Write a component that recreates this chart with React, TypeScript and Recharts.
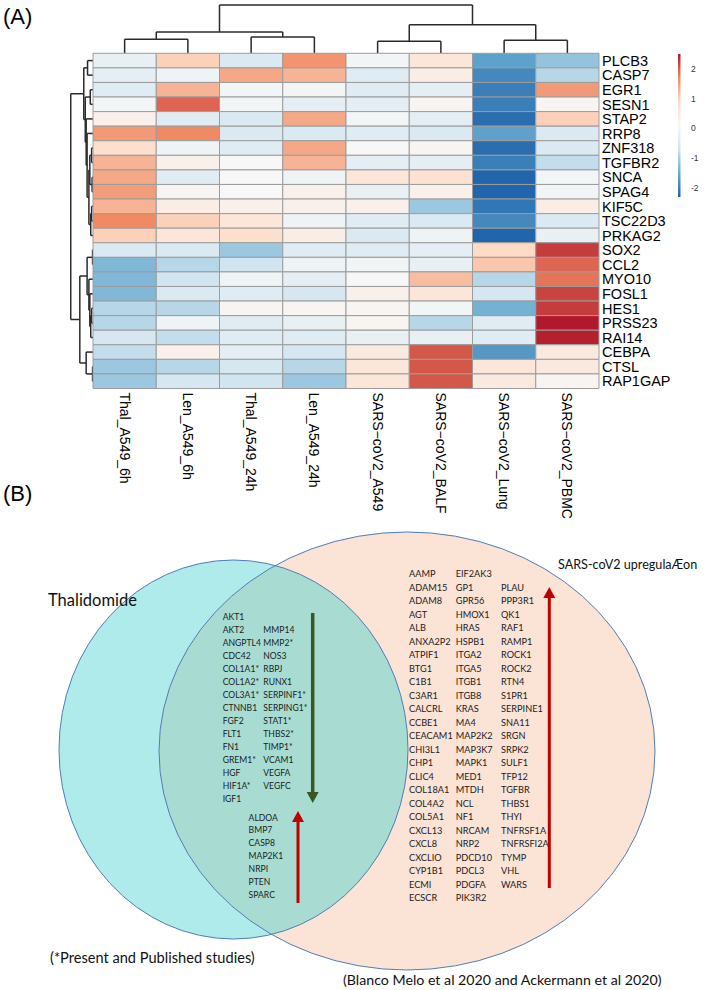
import React from 'react';
import {
  ComposedChart,
  ScatterChart,
  Scatter,
  XAxis,
  YAxis,
  ReferenceArea,
  ReferenceLine,
} from 'recharts';

// ---------- (A) heatmap: scaled expression, rows/cols in clustered order ----------
const samples = [
  'Thal_A549_6h', 'Len_A549_6h', 'Thal_A549_24h', 'Len_A549_24h',
  'SARS−coV2_A549', 'SARS−coV2_BALF', 'SARS−coV2_Lung', 'SARS−coV2_PBMC',
];
const genes = [
  'PLCB3', 'CASP7', 'EGR1', 'SESN1', 'STAP2', 'RRP8', 'ZNF318', 'TGFBR2', 'SNCA', 'SPAG4',
  'KIF5C', 'TSC22D3', 'PRKAG2', 'SOX2', 'CCL2', 'MYO10', 'FOSL1', 'HES1', 'PRSS23', 'RAI14',
  'CEBPA', 'CTSL', 'RAP1GAP',
];

const thalA549_6h = [-0.2, -0.3, -0.4, 0.0, 0.3, 1.55, 0.8, 1.3, 1.4, 1.5, 1.3, 1.7, 1.0, -0.5, -1.3, -1.3, -1.3, -0.9, -0.9, -0.6, -0.8, -1.1, -1.1];
const lenA549_6h = [1.0, -0.1, 1.3, 1.95, -0.4, 1.7, -0.1, 0.3, -0.4, 0.2, 0.4, 1.0, 0.6, -0.5, -0.9, -0.7, -0.5, -0.9, -0.1, -0.8, 0.3, -0.9, -0.6];
const thalA549_24h = [-0.5, 1.4, 0.0, 0.0, -0.5, -0.5, -0.4, 0.1, 0.1, 0.1, 0.3, 0.6, 0.8, -1.1, -0.7, -0.1, -0.4, 0.2, -0.4, -0.4, -0.3, -0.6, -0.7];
const lenA549_24h = [1.6, 1.3, 0.0, -0.3, 1.4, -0.5, 1.4, 1.3, -0.1, 0.3, 0.3, -0.1, 0.4, -0.4, -0.1, -0.3, -0.6, 0.2, -0.2, -0.4, -0.6, -0.9, -1.1];
const sarsA549 = [0.0, -0.4, -0.4, -0.3, 0.0, -0.4, 0.1, -0.3, 0.6, -0.2, 0.3, -0.4, -0.5, -0.4, 0.0, 0.1, 0.3, 0.2, 0.2, -0.2, 0.5, 0.6, 0.6];
const sarsBALF = [0.6, 0.4, -0.3, 0.2, -0.3, -0.5, 0.2, -0.3, 0.7, 0.3, -1.1, -0.5, -0.1, -0.3, -0.2, 1.2, 0.6, 0.0, -0.9, -0.2, 2.05, 2.05, 2.05];
const sarsLung = [-1.6, -1.9, -2.0, -2.0, -2.2, -1.6, -2.2, -2.0, -2.3, -2.3, -2.1, -1.9, -2.3, 0.9, 1.1, -0.9, -0.6, -1.4, -0.4, -0.4, -1.7, 0.6, 0.5];
const sarsPBMC = [-1.15, -0.9, 1.55, 0.2, 1.0, -0.5, -0.5, -0.8, 0.0, 0.0, 0.4, -0.5, -0.2, 2.25, 1.95, 1.85, 2.2, 2.25, 2.5, 2.45, 0.5, 0.5, 0.2];

const sampleValues = [thalA549_6h, lenA549_6h, thalA549_24h, lenA549_24h, sarsA549, sarsBALF, sarsLung, sarsPBMC];

// colour key (rev RdBu ramp over the data range)
const palette = ['#2166AC', '#67A9CF', '#D1E5F0', '#F7F7F7', '#FDDBC7', '#EF8A62', '#B2182B'];
const zRange: [number, number] = [-2.3, 2.5];
const legendTicks = [-2, -1, 0, 1, 2];

// hclust-style merges: [a, b, height], negative = leaf (1-based), positive = earlier merge
type Merge = [number, number, number];
const colMerge: Merge[] = [
  [-1, -2, 2.9], [-3, -4, 3.4], [1, 2, 4.4], [-5, -6, 2.5], [-7, -8, 2.7], [4, 5, 5.9], [3, 6, 10],
];
const rowMerge: Merge[] = [
  [-1, -2, 2.45], [-3, -4, 1.22], [-7, -8, 0.61], [-9, -10, 0.41], [3, 4, 1.43], [-11, -12, 0.61],
  [6, -13, 1.02], [5, 7, 1.84], [-6, 8, 2.65], [-5, 9, 3.06], [2, 10, 3.47], [1, 11, 4.14],
  [-14, -15, 0.2], [-18, -19, 0.61], [14, -20, 1.02], [-17, 15, 1.43], [-16, 16, 1.84], [13, 17, 2.65],
  [-22, -23, 0.2], [-21, 19, 3.06], [18, 20, 5.92], [12, 21, 10],
];

// ---------- (B) Venn gene lists ----------
const overlapDownA = ['AKT1', 'AKT2', 'ANGPTL4', 'CDC42', 'COL1A1*', 'COL1A2*', 'COL3A1*', 'CTNNB1', 'FGF2', 'FLT1', 'FN1', 'GREM1*', 'HGF', 'HIF1A*', 'IGF1'];
const overlapDownB = ['MMP14', 'MMP2*', 'NOS3', 'RBPJ', 'RUNX1', 'SERPINF1*', 'SERPING1*', 'STAT1*', 'THBS2*', 'TIMP1*', 'VCAM1', 'VEGFA', 'VEGFC'];
const overlapUp = ['ALDOA', 'BMP7', 'CASP8', 'MAP2K1', 'NRPI', 'PTEN', 'SPARC'];
const sarsUpA = ['AAMP', 'ADAM15', 'ADAM8', 'AGT', 'ALB', 'ANXA2P2', 'ATPIF1', 'BTG1', 'C1B1', 'C3AR1', 'CALCRL', 'CCBE1', 'CEACAM1', 'CHI3L1', 'CHP1', 'CLIC4', 'COL18A1', 'COL4A2', 'COL5A1', 'CXCL13', 'CXCL8', 'CXCLIO', 'CYP1B1', 'ECMI', 'ECSCR'];
const sarsUpB = ['EIF2AK3', 'GP1', 'GPR56', 'HMOX1', 'HRAS', 'HSPB1', 'ITGA2', 'ITGA5', 'ITGB1', 'ITGB8', 'KRAS', 'MA4', 'MAP2K2', 'MAP3K7', 'MAPK1', 'MED1', 'MTDH', 'NCL', 'NF1', 'NRCAM', 'NRP2', 'PDCD10', 'PDCL3', 'PDGFA', 'PIK3R2'];
const sarsUpC = ['PLAU', 'PPP3R1', 'QK1', 'RAF1', 'RAMP1', 'ROCK1', 'ROCK2', 'RTN4', 'S1PR1', 'SERPINE1', 'SNA11', 'SRGN', 'SRPK2', 'SULF1', 'TFP12', 'TGFBR', 'THBS1', 'THYI', 'TNFRSF1A', 'TNFRSFI2A', 'TYMP', 'VHL', 'WARS'];

const arial = "'Liberation Sans', Arial, Helvetica, sans-serif";
const calibri = "Lato, 'Open Sans', sans-serif";

const rgb = (h: string) => [1, 3, 5].map((i) => parseInt(h.slice(i, i + 2), 16));
function zColor(v: number) {
  const t = Math.min(1, Math.max(0, (v - zRange[0]) / (zRange[1] - zRange[0]))) * (palette.length - 1);
  const i = Math.min(palette.length - 2, Math.floor(t));
  const f = t - i;
  const a = rgb(palette[i]);
  const b = rgb(palette[i + 1]);
  return `rgb(${a.map((c, k) => Math.round(c + (b[k] - c) * f)).join(',')})`;
}

function treeSegments(merge: Merge[]) {
  const pos: number[] = [];
  const hgt: number[] = [];
  const segs: number[][] = [];
  const at = (n: number) => (n < 0 ? [-n - 0.5, 0] : [pos[n - 1], hgt[n - 1]]);
  merge.forEach(([a, b, h], k) => {
    const [pa, ha] = at(a);
    const [pb, hb] = at(b);
    segs.push([pa, ha, pa, h], [pa, h, pb, h], [pb, h, pb, hb]);
    pos[k] = (pa + pb) / 2;
    hgt[k] = h;
  });
  return segs;
}

const colSegs = treeSegments(colMerge);
const rowSegs = treeSegments(rowMerge);
const treeStroke = '#2a2a2a';

function GeneTick({ x, y, payload }: any) {
  return (
    <text x={x} y={y} dy={5.2} fontSize={14.5} fontFamily={arial} fill="#000" textAnchor="start">
      {genes[Math.floor(payload.value)]}
    </text>
  );
}

function SampleTick({ x, y, payload }: any) {
  return (
    <text transform={`translate(${x - 5},${y}) rotate(90)`} fontSize={14} fontFamily={arial} fill="#000" textAnchor="start">
      {samples[Math.floor(payload.value)]}
    </text>
  );
}

// Venn layout (this chart is 1 unit = 1 px, page coordinates)
const vennSets = {
  thal: { x: 233.5, y: 749.5, rx: 174.5, ry: 189.5 },
  sars: { x: 407, y: 751, rx: 248, ry: 219 },
};
const geneFont = 8.6;

function listPoints(names: string[], x: number, y0: number, step: number, skip = 0) {
  return names.map((label, i) => ({ x, y: y0 + (i + skip) * step, label }));
}

const geneText = (p: any) => (
  <text x={p.cx} y={p.cy} fontSize={p.payload.fs} fontFamily={calibri} fill="#1c1c1c">{p.payload.label}</text>
);

const setFill = (p: any) => <ellipse cx={p.cx} cy={p.cy} rx={p.payload.rx} ry={p.payload.ry} fill={p.payload.fill} />;
const setLine = (p: any) => <ellipse cx={p.cx} cy={p.cy} rx={p.payload.rx} ry={p.payload.ry} fill="none" stroke="#4F7DB8" strokeWidth={1} />;

const overlapFill = (p: any) => {
  const { thal, sars } = vennSets;
  return (
    <g>
      <defs>
        <clipPath id="sarsClip">
          <ellipse cx={p.cx} cy={p.cy} rx={sars.rx} ry={sars.ry} />
        </clipPath>
      </defs>
      <ellipse cx={p.cx + thal.x - sars.x} cy={p.cy + thal.y - sars.y} rx={thal.rx} ry={thal.ry} fill="#A8DCD2" clipPath="url(#sarsClip)" />
    </g>
  );
};

const arrowShape = (p: any) => {
  const { len, dir, color, w } = p.payload;
  const s = dir === 'up' ? 1 : -1;
  const head = 11;
  return (
    <g>
      <line x1={p.cx} y1={p.cy + s * head} x2={p.cx} y2={p.cy + s * len} stroke={color} strokeWidth={w} />
      <polygon points={`${p.cx},${p.cy} ${p.cx - 6},${p.cy + s * head} ${p.cx + 6},${p.cy + s * head}`} fill={color} />
    </g>
  );
};

export default function App() {
  const { thal, sars } = vennSets;
  const genePts = [
    ...listPoints(overlapDownA, 222.7, 620, 13.0).map((d) => ({ ...d, fs: geneFont })),
    ...listPoints(overlapDownB, 263.3, 620, 13.0, 1).map((d) => ({ ...d, fs: geneFont })),
    ...listPoints(overlapUp, 248.6, 820.5, 12.95).map((d) => ({ ...d, fs: geneFont })),
    ...listPoints(sarsUpA, 409, 577, 13.5).map((d) => ({ ...d, fs: geneFont + 0.6 })),
    ...listPoints(sarsUpB, 455.7, 577, 13.5).map((d) => ({ ...d, fs: geneFont + 0.6 })),
    ...listPoints(sarsUpC, 501, 577, 13.5, 1).map((d) => ({ ...d, fs: geneFont + 0.6 })),
  ];
  const arrows = [
    { x: 312.7, y: 803, len: 190, dir: 'down', color: '#385723', w: 3.5 },
    { x: 298, y: 811, len: 92, dir: 'up', color: '#C00000', w: 3 },
    { x: 549.3, y: 587, len: 301, dir: 'up', color: '#C00000', w: 3 },
  ];
  const cells = sampleValues.flatMap((vals, c) => vals.map((z, r) => ({ c, r, z })));

  return (
    <div style={{ position: 'absolute', left: 0, top: 0, width: 709, height: 990, background: '#fff' }}>
      {/* column dendrogram */}
      <div style={{ position: 'absolute', left: 0, top: 0 }}>
        <ComposedChart width={709} height={54} margin={{ top: 5, right: 110, bottom: 0.7, left: 93 }} data={samples.map((s, i) => ({ pos: i + 0.5 }))}>
          <XAxis type="number" dataKey="pos" domain={[0, 8]} hide allowDataOverflow />
          <YAxis type="number" domain={[0, 10]} hide allowDataOverflow />
          {colSegs.map(([x1, y1, x2, y2], i) => (
            <ReferenceLine key={i} segment={[{ x: x1, y: y1 }, { x: x2, y: y2 }]} stroke={treeStroke} strokeWidth={1.5} ifOverflow="visible" />
          ))}
        </ComposedChart>
      </div>

      {/* row dendrogram */}
      <div style={{ position: 'absolute', left: 0, top: 0 }}>
        <ComposedChart width={93} height={390} margin={{ top: 53.3, right: 0, bottom: 1.5, left: 44 }} data={genes.map((g, i) => ({ pos: i + 0.5 }))} layout="horizontal">
          <XAxis type="number" domain={[0, 10]} reversed hide allowDataOverflow />
          <YAxis type="number" dataKey="pos" domain={[0, 23]} reversed hide allowDataOverflow />
          {rowSegs.map(([p1, h1, p2, h2], i) => (
            <ReferenceLine key={i} segment={[{ x: h1, y: p1 }, { x: h2, y: p2 }]} stroke={treeStroke} strokeWidth={1.5} ifOverflow="visible" />
          ))}
        </ComposedChart>
      </div>

      {/* heatmap */}
      <div style={{ position: 'absolute', left: 0, top: 0 }}>
        <ComposedChart width={709} height={530} margin={{ top: 53.3, right: 0, bottom: 0, left: 93 }} data={cells}>
          <XAxis
            type="number" dataKey="c" domain={[0, 8]} ticks={samples.map((s, i) => i + 0.5)} interval={0}
            height={141.5} axisLine={false} tickLine={false} tickSize={0} tickMargin={4} tick={<SampleTick />} allowDataOverflow
          />
          <YAxis
            type="number" dataKey="r" orientation="right" domain={[0, 23]} reversed ticks={genes.map((g, i) => i + 0.5)} interval={0}
            width={110} axisLine={false} tickLine={false} tickSize={0} tickMargin={3} tick={<GeneTick />} allowDataOverflow
          />
          {cells.map(({ c, r, z }) => (
            <ReferenceArea key={`${c}-${r}`} x1={c} x2={c + 1} y1={r} y2={r + 1} fill={zColor(z)} fillOpacity={1} stroke="#9c9c9c" strokeWidth={1} ifOverflow="visible" />
          ))}
        </ComposedChart>
      </div>

      {/* colour key */}
      <div style={{ position: 'absolute', left: 677.7, top: 54 }}>
        <ComposedChart width={32} height={143} margin={{ top: 0, right: 0, bottom: 0, left: 0 }} data={legendTicks.map((v) => ({ v }))}>
          <defs>
            <linearGradient id="zGrad" x1="0" y1="0" x2="0" y2="1">
              {palette.map((col, i) => (
                <stop key={i} offset={`${(i / (palette.length - 1)) * 100}%`} stopColor={palette[palette.length - 1 - i]} />
              ))}
            </linearGradient>
          </defs>
          <XAxis type="number" domain={[0, 1]} hide />
          <YAxis
            type="number" dataKey="v" orientation="right" domain={zRange} ticks={legendTicks} interval={0} width={22}
            axisLine={false} tickLine={false} tickSize={0} tickMargin={3} allowDataOverflow
            tick={{ fontSize: 8.5, fill: '#333', fontFamily: arial }}
          />
          <ReferenceArea x1={0} x2={1} y1={zRange[0]} y2={zRange[1]} fill="url(#zGrad)" fillOpacity={1} ifOverflow="visible" />
        </ComposedChart>
      </div>

      {/* (B) Venn */}
      <div style={{ position: 'absolute', left: 0, top: 480 }}>
        <ScatterChart width={709} height={510} margin={{ top: 0, right: 0, bottom: 0, left: 0 }}>
          <XAxis type="number" dataKey="x" domain={[0, 709]} hide allowDataOverflow />
          <YAxis type="number" dataKey="y" domain={[480, 990]} reversed hide allowDataOverflow />
          <Scatter data={[{ ...thal, fill: '#B0EBEC' }]} shape={setFill} isAnimationActive={false} />
          <Scatter data={[{ ...sars, fill: '#FBE3D6' }]} shape={setFill} isAnimationActive={false} />
          <Scatter data={[{ ...sars }]} shape={overlapFill} isAnimationActive={false} />
          <Scatter data={[thal, sars]} shape={setLine} isAnimationActive={false} />
          <Scatter data={genePts} shape={geneText} isAnimationActive={false} />
          <Scatter data={arrows} shape={arrowShape} isAnimationActive={false} />
        </ScatterChart>
      </div>

      {/* panel titles and notes */}
      <svg width={709} height={990} style={{ position: 'absolute', left: 0, top: 0, pointerEvents: 'none' }}>
        <text x={3} y={24} fontSize={22} fontFamily={arial} fill="#000">(A)</text>
        <text x={3} y={501} fontSize={22} fontFamily={arial} fill="#000">(B)</text>
        <text x={48} y={606} fontSize={16.5} fontFamily={calibri} fill="#111">Thalidomide</text>
        <text x={558} y={569} fontSize={12.6} fontFamily={calibri} fill="#111">SARS-coV2 upregulaÆon</text>
        <text x={50} y={963} fontSize={14.6} fontFamily={calibri} fill="#111">(*Present and Published studies)</text>
        <text x={343} y={985} fontSize={14.2} fontFamily={calibri} fill="#111">(Blanco Melo et al 2020 and Ackermann et al 2020)</text>
      </svg>
    </div>
  );
}
